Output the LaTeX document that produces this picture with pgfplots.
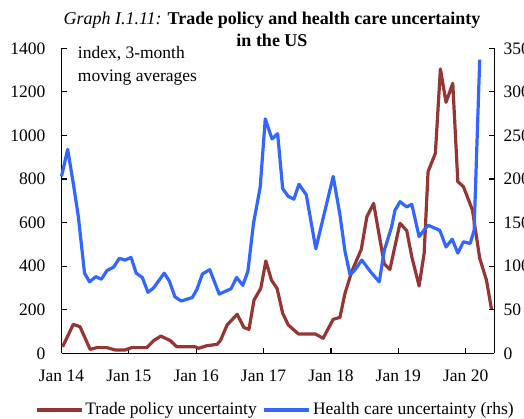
\documentclass[border=0pt]{standalone}
\usepackage{pgfplots}
\pgfplotsset{compat=1.18}
\usepackage{fontspec}
\setmainfont{Liberation Serif}
\definecolor{tradered}{RGB}{148,54,52}
\definecolor{healthblue}{RGB}{51,102,255}
\begin{document}
\fontsize{17.5}{21}\selectfont
\begin{tikzpicture}
\useasboundingbox (-61.5pt,-64.7pt) rectangle (462.5pt,353.3pt);
\pgfplotsset{
  common/.style={
    at={(0pt,0pt)}, anchor=south west,
    scale only axis, width=432.8pt, height=305pt,
    xmin=0, xmax=77.1,
    tick align=inside, major tick length=5pt,
    axis line style={line width=1.1pt, black},
    every tick/.style={line width=1.1pt, black},
    /pgf/number format/assume math mode=true,
    ticklabel style={font=\fontsize{17.5}{21}\selectfont},
    clip=false,
  }
}
\begin{axis}[common,
  ymin=0, ymax=1400,
  axis y line*=left, axis x line*=bottom,
  ytick={0,200,...,1400},
  yticklabel style={anchor=east, inner xsep=0pt, xshift=-16pt},
  xtick={0,12,24,36,48,60,72},
  xticklabels={Jan 14,Jan 15,Jan 16,Jan 17,Jan 18,Jan 19,Jan 20},
  xticklabel style={anchor=north, inner ysep=0pt, yshift=-16.5pt},
  /pgf/number format/1000 sep={},
]
\addplot[color=tradered, line width=3.2pt, line join=round] coordinates {
(0.2,30) (2.1,133) (3.3,122) (5.1,18) (6.3,26) (8.1,26) (9.6,15) (11.3,15) (12.5,26) (15.2,26) (16.4,58) (17.7,79) (19.4,58) (20.5,30) (23.8,30) (24.4,23) (25.9,35) (27.7,41) (28.3,58) (29.5,130) (31.3,179) (32.5,118) (33.4,110) (34.3,245) (35.5,298) (36.4,424) (37.4,336) (38.4,298) (39.4,184) (40.4,130) (42.2,89) (45.2,89) (46.6,69) (48.4,156) (49.6,165) (50.5,275) (51.7,375) (53.4,477) (54.4,627) (55.6,688) (57.5,410) (58.5,385) (60.3,597) (61.5,563) (62.4,443) (63.7,309) (64.6,459) (65.3,834) (66.6,918) (67.5,1305) (68.5,1152) (69.7,1239) (70.6,788) (71.6,765) (73.2,658) (74.5,436) (75.7,336) (76.6,202)
};
\end{axis}
\begin{axis}[common,
  ymin=0, ymax=350,
  axis y line*=right, axis x line=none,
  ytick={0,50,...,350},
  yticklabel style={anchor=west, inner xsep=0pt, xshift=9pt},
  legend columns=-1,
  legend style={at={(-0.0612,-0.186)}, anchor=west, draw=none, fill=none,
    inner sep=0pt, font=\fontsize{17.5}{21}\selectfont,
    /tikz/every even column/.append style={column sep=4pt}},
  legend image code/.code={\draw[#1] (0pt,0pt) -- (45pt,0pt);},
]
\addlegendimage{color=tradered, line width=3.2pt}
\addlegendentry{Trade policy uncertainty}
\addplot[color=healthblue, line width=3.2pt, line join=round] coordinates {
(0,203) (1.1,234) (2.1,195) (3.0,157) (4.1,92) (5.0,82) (6.1,88) (7.1,85) (8.1,95) (9.3,99) (10.3,109) (11.3,107) (12.4,110) (13.3,92) (14.4,87) (15.4,70) (16.4,75) (18.3,92) (19.2,83) (20.2,65) (21.3,60) (23.3,64) (24.1,73) (25.1,91) (26.4,96) (28.1,68) (30.2,74) (31.2,87) (32.3,78) (33.2,94) (34.2,149) (35.4,191) (36.3,269) (37.5,246) (38.5,252) (39.4,189) (40.4,180) (41.4,177) (42.3,194) (43.6,182) (45.3,120) (48.4,203) (49.6,159) (50.5,117) (51.4,90) (52.3,96) (53.5,107) (55,94) (56.6,82) (57.5,118) (58.8,145) (59.4,164) (60.3,174) (61.5,168) (62.4,171) (63.7,134) (65.3,147) (67.4,141) (68.5,122) (69.6,131) (70.6,115) (71.6,128) (72.8,126) (73.5,141) (74.5,337)
};
\addlegendentry{Health care uncertainty (rhs)}
\end{axis}
\node[align=center, anchor=center, font=\fontsize{18}{22}\selectfont] at (210.5pt,324.3pt)
  {\textit{Graph I.1.11:} \textbf{Trade policy and health care uncertainty}\\ \textbf{in the US}};
\node[align=left, anchor=base west, inner sep=0pt, font=\fontsize{17.5}{22.5}\selectfont] at (16.2pt,271.8pt)
  {index, 3-month\\moving averages};
\end{tikzpicture}
\end{document}
